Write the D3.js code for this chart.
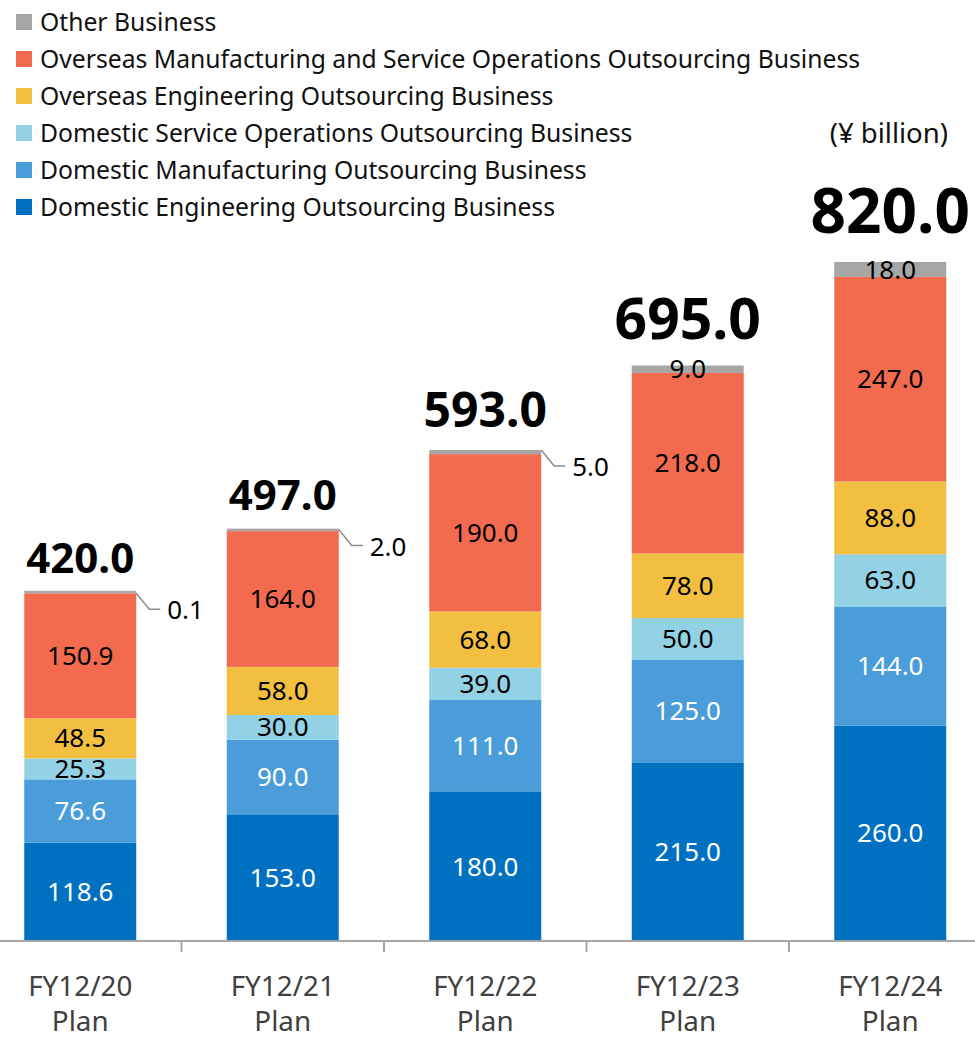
<!DOCTYPE html>
<html>
<head>
<meta charset="utf-8">
<script src="https://cdn.jsdelivr.net/npm/d3@7"></script>
<style>
  body { margin: 0; background: #fff; }
  svg { display: block; font-family: "Noto Sans", "Open Sans", sans-serif; }
</style>
</head>
<body>
<div id="chart"></div>
<script>
// DATA
var categories = ['FY12/20', 'FY12/21', 'FY12/22', 'FY12/23', 'FY12/24'];
var subLabel = 'Plan';

// series, bottom of the stack first
var seriesNames = [
  'Domestic Engineering Outsourcing Business',
  'Domestic Manufacturing Outsourcing Business',
  'Domestic Service Operations Outsourcing Business',
  'Overseas Engineering Outsourcing Business',
  'Overseas Manufacturing and Service Operations Outsourcing Business',
  'Other Business'
];
var domesticEngineering = [118.6, 153.0, 180.0, 215.0, 260.0];
var domesticManufacturing = [76.6, 90.0, 111.0, 125.0, 144.0];
var domesticService = [25.3, 30.0, 39.0, 50.0, 63.0];
var overseasEngineering = [48.5, 58.0, 68.0, 78.0, 88.0];
var overseasManufacturing = [150.9, 164.0, 190.0, 218.0, 247.0];
var otherBusiness = [0.1, 2.0, 5.0, 9.0, 18.0];
var totals = [420.0, 497.0, 593.0, 695.0, 820.0];

var unitLabel = '(\u00a5 billion)';

// STYLE
var colors = ['#0070c0', '#4a9dd8', '#93d1e4', '#f2bf40', '#f26b4f', '#a6a6a6'];
var labelColors = ['#fff', '#fff', '#000', '#000', '#000', '#000'];
var totalSizes = [42, 42, 48, 57, 62];

var W = 975, H = 1038;
var svg = d3.select('#chart').append('svg').attr('width', W).attr('height', H);

var allSeries = [domesticEngineering, domesticManufacturing, domesticService,
                 overseasEngineering, overseasManufacturing, otherBusiness];

var rows = categories.map(function(c, i) {
  var r = { cat: c };
  seriesNames.forEach(function(s, k) { r[s] = allSeries[k][i]; });
  return r;
});
var stacked = d3.stack().keys(seriesNames)(rows);

var x = d3.scaleBand().domain(categories).range([-21, 991.5])
  .paddingInner(0.447).paddingOuter(0.2235);
var y = d3.scaleLinear().domain([0, d3.max(totals)]).range([941, 262]);

// bars (tiny segments get a minimum visible height)
function segH(d) { return Math.max(y(d[0]) - y(d[1]), 2.5); }

var layer = svg.selectAll('g.layer').data(stacked).enter().append('g')
  .attr('class', 'layer')
  .attr('fill', function(d, k) { return colors[k]; });

layer.selectAll('rect').data(function(d) { return d; }).enter().append('rect')
  .attr('x', function(d) { return x(d.data.cat); })
  .attr('width', x.bandwidth())
  .attr('y', function(d) { return y(d[0]) - segH(d); })
  .attr('height', segH);

// segment labels
stacked.forEach(function(s, k) {
  s.forEach(function(d, i) {
    var v = allSeries[k][i];
    var h = y(d[0]) - y(d[1]);
    var cx = x(d.data.cat) + x.bandwidth() / 2;
    if (h < 6) {
      // callout to the right of the bar
      var x0 = x(d.data.cat) + x.bandwidth(), y0 = y(d[1]);
      svg.append('path')
        .attr('d', 'M' + x0 + ',' + y0 + 'l13,16h11')
        .attr('fill', 'none').attr('stroke', '#8c8c8c').attr('stroke-width', 1.5);
      svg.append('text').attr('x', x0 + 31).attr('y', y0 + 17)
        .attr('dy', '0.35em').attr('font-size', 26).attr('fill', '#000')
        .text(v.toFixed(1));
    } else {
      svg.append('text').attr('x', cx).attr('y', (y(d[0]) + y(d[1])) / 2)
        .attr('dy', '0.35em').attr('text-anchor', 'middle')
        .attr('font-size', 26).attr('fill', labelColors[k])
        .text(v.toFixed(1));
    }
  });
});

// totals
totals.forEach(function(t, i) {
  svg.append('text')
    .attr('x', x(categories[i]) + x.bandwidth() / 2)
    .attr('y', y(t) - totalSizes[i] * 0.47)
    .attr('text-anchor', 'middle')
    .attr('font-size', totalSizes[i]).attr('font-weight', 'bold').attr('fill', '#000')
    .text(t.toFixed(1));
});

// axis: baseline with ticks between categories
svg.append('line').attr('x1', 0).attr('x2', W).attr('y1', y(0)).attr('y2', y(0))
  .attr('stroke', '#a6a6a6').attr('stroke-width', 2);
categories.slice(1).forEach(function(c) {
  var tx = x(c) - x.step() * x.paddingInner() / 2;
  svg.append('line').attr('x1', tx).attr('x2', tx).attr('y1', y(0)).attr('y2', y(0) + 11)
    .attr('stroke', '#a6a6a6').attr('stroke-width', 2);
});
categories.forEach(function(c) {
  var t = svg.append('text').attr('text-anchor', 'middle').attr('font-size', 27.8)
    .attr('fill', '#404040');
  t.append('tspan').attr('x', x(c) + x.bandwidth() / 2).attr('y', 996).text(c);
  t.append('tspan').attr('x', x(c) + x.bandwidth() / 2).attr('y', 1031).text(subLabel);
});

// legend, top entry is the top of the stack
var legendOrder = seriesNames.slice().reverse();
legendOrder.forEach(function(s, j) {
  var k = seriesNames.indexOf(s);
  var cy = 22 + j * 37;
  svg.append('rect').attr('x', 16).attr('y', cy - 8).attr('width', 16).attr('height', 16)
    .attr('fill', colors[k]);
  svg.append('text').attr('x', 40).attr('y', cy).attr('dy', '0.35em')
    .attr('font-size', 24.7).attr('fill', '#111').text(s);
});

svg.append('text').attr('x', 948).attr('y', 143).attr('text-anchor', 'end')
  .attr('font-size', 27.5).attr('fill', '#111').text(unitLabel);
</script>
</body>
</html>
